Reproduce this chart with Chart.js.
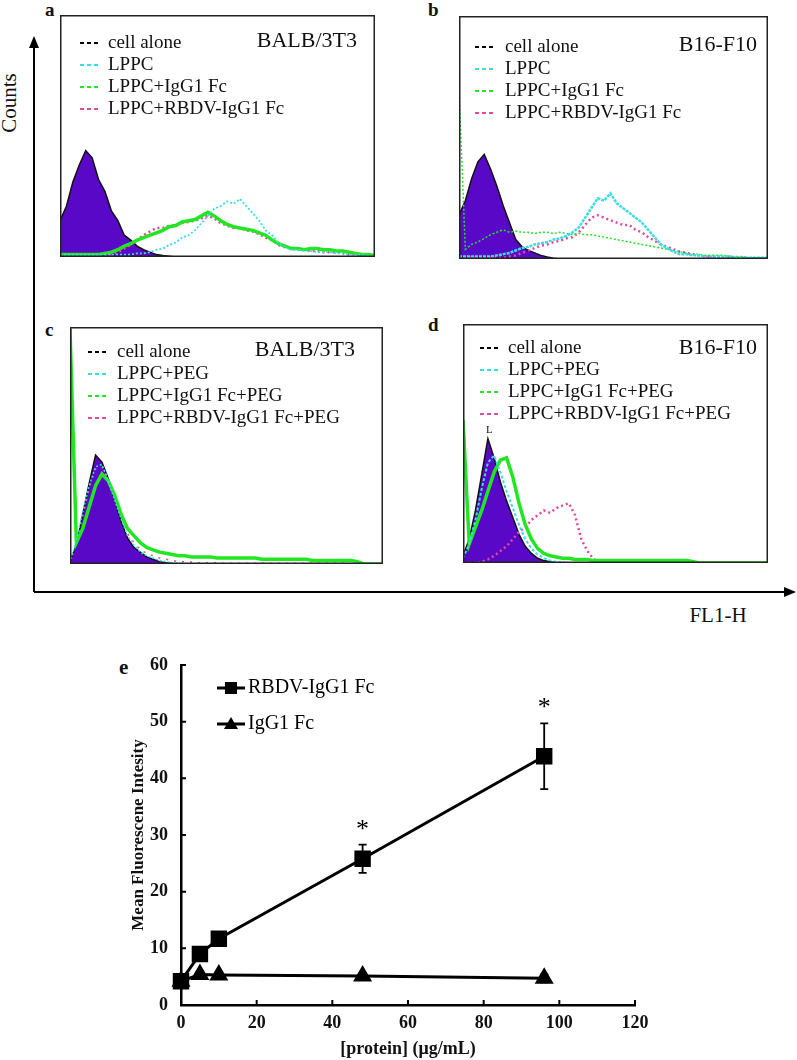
<!DOCTYPE html>
<html>
<head>
<meta charset="utf-8">
<script src="https://cdn.jsdelivr.net/npm/chart.js@4.4.1/dist/chart.umd.min.js"></script>
<style>
  body { margin: 0; width: 797px; height: 1060px; background: #fff; position: relative; overflow: hidden; font-family: "Liberation Serif", serif; color: #111; }
  canvas { position: absolute; }
  svg { position: absolute; left: 0; top: 0; }
  .tag { position: absolute; font-weight: bold; font-size: 19px; line-height: 20px; }
  #counts { position: absolute; left: -22px; top: 92px; width: 62px; height: 22px; line-height: 22px; text-align: center; font-size: 21px; transform: rotate(-90deg); }
  #fl1 { position: absolute; left: 688px; top: 604px; width: 60px; line-height: 22px; text-align: center; font-size: 21px; }
  #gate { position: absolute; left: 486px; top: 423px; font-size: 11px; line-height: 12px; }
</style>
</head>
<body>
<svg width="797" height="1060">
  <line x1="34" y1="46" x2="34" y2="592" stroke="#000" stroke-width="2"/>
  <polygon points="34,36 29,48 39,48" fill="#000"/>
  <line x1="34" y1="592" x2="786" y2="592" stroke="#000" stroke-width="2"/>
  <polygon points="796,592 784,587 784,597" fill="#000"/>
</svg>
<div id="counts">Counts</div>
<div id="fl1">FL1-H</div>
<div class="tag" style="left:45px;top:0px">a</div>
<div class="tag" style="left:428px;top:0px">b</div>
<div class="tag" style="left:45px;top:320px">c</div>
<div class="tag" style="left:428px;top:315px">d</div>
<div class="tag" style="left:119px;top:657px;font-size:21px">e</div>

<canvas id="panelA" width="315" height="242" style="left:60px;top:15px"></canvas>
<canvas id="panelB" width="309" height="243" style="left:459px;top:16px"></canvas>
<canvas id="panelC" width="313" height="237" style="left:70px;top:327px"></canvas>
<canvas id="panelD" width="305" height="239" style="left:463px;top:324px"></canvas>
<div id="gate">L</div>
<canvas id="chartE" width="590" height="420" style="left:90px;top:640px"></canvas>

<script>
// histogram channels (50 bins across FL1-H), counts in % of panel height
const channels = [
  0, 1, 2, 3, 4, 5, 6, 7, 8, 9,
  10, 11, 12, 13, 14, 15, 16, 17, 18, 19,
  20, 21, 22, 23, 24, 25, 26, 27, 28, 29,
  30, 31, 32, 33, 34, 35, 36, 37, 38, 39,
  40, 41, 42, 43, 44, 45, 46, 47, 48, 49
];

// a - BALB/3T3
const cellA = [
  15, 21, 31, 38, 44, 41, 32, 27, 19, 15,
  9, 7, 4.5, 3, 2, 1, 0.6, 0.3, 0, 0,
  0, 0, 0, 0, 0, 0, 0, 0, 0, 0,
  0, 0, 0, 0, 0, 0, 0, 0, 0, 0,
  0, 0, 0, 0, 0, 0, 0, 0, 0, 0
];
const lppcA = [
  1, 1, 1, 1, 1, 1, 1, 1, 1, 1,
  1, 1, 1.5, 1.5, 2, 3, 3.5, 5, 6, 8,
  9, 11, 14, 17, 20, 21, 23, 22, 24, 21,
  18, 15, 11, 9, 6, 4, 3, 3, 2.5, 2.5,
  2, 2, 2, 1.5, 1.5, 1, 1, 1, 0.5, 0.5
];
const igA = [
  1, 1, 1, 1, 1, 1, 1, 1.5, 2, 3,
  4.5, 5.5, 7, 8, 9, 10, 11, 12.5, 13, 14.5,
  15, 15.5, 17, 18.5, 17, 15, 13.5, 12.5, 12, 11.5,
  11, 10, 9, 7, 5.5, 4.5, 3.5, 3.5, 3, 3.5,
  3.5, 3, 3, 2.5, 2.5, 2, 1.5, 1, 1, 0.5
];
const rbdvA = [
  0.5, 0.5, 0.5, 0.5, 0.5, 0.5, 0.5, 0.5, 1, 2,
  3.5, 5, 7, 9, 10.5, 12, 12, 13, 13, 14,
  14.5, 15, 16, 17, 16, 14, 13, 12, 12, 11,
  10.5, 9.5, 8, 7, 5, 4, 3.5, 3, 3, 2.5,
  2.5, 2, 2, 2, 1.5, 1, 1, 0.5, 0.5, 0
];

// b - B16-F10
const cellB = [
  18, 24, 33, 40, 43, 37, 30, 22, 15, 8,
  5, 3.5, 2.5, 1.5, 0.8, 0.3, 0, 0, 0, 0,
  0, 0, 0, 0, 0, 0, 0, 0, 0, 0,
  0, 0, 0, 0, 0, 0, 0, 0, 0, 0,
  0, 0, 0, 0, 0, 0, 0, 0, 0, 0
];
const lppcB = [
  1, 1, 1, 1, 1, 1, 1.5, 2, 2.5, 3.5,
  4.5, 5, 6, 6.5, 7, 8, 8.5, 9.5, 11, 13,
  17, 21, 25, 24, 27, 23, 21, 19, 17, 15,
  12, 9, 6, 4.5, 3, 2, 2, 1.5, 1.5, 1,
  1, 1, 1, 1, 0.5, 0.5, 0.5, 0.5, 0.5, 0.5
];
const igB = [
  70, 4, 6, 7, 8.5, 10, 11, 12, 11, 11.5,
  11, 11, 10.5, 11, 11, 10.5, 11, 10.5, 10, 10.5,
  10, 10, 9.5, 9, 8.5, 8, 7.5, 7, 6.5, 6,
  5.5, 5, 4.5, 4, 3.5, 3, 2.5, 2, 2, 1.5,
  1.5, 1.5, 1.5, 1, 1, 1, 0.5, 0.5, 0.5, 0.5
];
const rbdvB = [
  0.5, 0.5, 0.5, 0.5, 0.5, 0.5, 0.5, 0.5, 1, 1.5,
  2.5, 3.5, 4.5, 5.5, 6, 7, 7.5, 8.5, 9, 11,
  14, 17, 18, 17, 16, 15, 14, 14, 12, 11,
  9, 7.5, 6, 5, 4, 3, 2.5, 2, 1.5, 1,
  1, 1, 0.5, 1, 0.5, 0.5, 0, 0.5, 0, 0
];

// c - BALB/3T3 + PEG
const cellC = [
  1, 8, 21, 34, 46, 43, 36, 27, 18, 11,
  7, 5, 3, 2, 1, 0.5, 0.2, 0, 0, 0,
  0, 0, 0, 0, 0, 0, 0, 0, 0, 0,
  0, 0, 0, 0, 0, 0, 0, 0, 0, 0,
  0, 0, 0, 0, 0, 0, 0, 0, 0, 0
];
const lppcC = [
  0.5, 10, 22, 33, 41, 42, 35, 27, 19, 12,
  8, 5, 3.5, 2.5, 1.5, 1, 0.5, 0.3, 0, 0,
  0, 0, 0, 0, 0, 0, 0, 0, 0, 0,
  0, 0, 0, 0, 0, 0, 0, 0, 0, 0,
  0, 0, 0, 0, 0, 0, 0, 0, 0, 0
];
const igC = [
  99, 9, 15, 24, 33, 38, 35, 29, 21, 15,
  12, 9, 7, 6, 5, 4.5, 4, 3.5, 3.5, 3,
  3, 3, 3, 2.5, 2.5, 2.5, 2.5, 2.5, 2.5, 2.5,
  2, 2, 2, 2, 2, 2, 2, 2, 1.5, 1.5,
  1.5, 1.5, 1.5, 1.5, 1.5, 1, 0, 0, 0, 0
];
const rbdvC = [
  0.5, 9, 20, 32, 40, 41, 36, 28, 20, 13,
  9, 6, 4.5, 3.5, 2.5, 2, 1.5, 1, 1, 0.8,
  0.5, 0.5, 0.5, 0.5, 0.3, 0.3, 0.3, 0.3, 0.3, 0.3,
  0.3, 0.3, 0.3, 0.3, 0.3, 0.3, 0.3, 0.3, 0.3, 0.3,
  0.3, 0.3, 0.3, 0.3, 0, 0, 0, 0, 0, 0
];

// d - B16-F10 + PEG
const cellD = [
  3, 10, 22, 37, 52, 44, 34, 26, 19, 12,
  7, 4, 2, 1, 0.5, 0, 0, 0, 0, 0,
  0, 0, 0, 0, 0, 0, 0, 0, 0, 0,
  0, 0, 0, 0, 0, 0, 0, 0, 0, 0,
  0, 0, 0, 0, 0, 0, 0, 0, 0, 0
];
const lppcD = [
  2, 8, 18, 31, 42, 45, 38, 30, 23, 16,
  10, 6, 3.5, 2, 1, 0.5, 0.3, 0, 0, 0,
  0, 0, 0, 0, 0, 0, 0, 0, 0, 0,
  0, 0, 0, 0, 0, 0, 0, 0, 0, 0,
  0, 0, 0, 0, 0, 0, 0, 0, 0, 0
];
const igD = [
  60, 8, 15, 22, 30, 38, 43, 44, 36, 25,
  16, 10, 6, 4, 3, 2.5, 2, 2, 1.5, 1.5,
  1.5, 1, 1, 1, 1, 1, 1, 1, 1, 1,
  1, 1, 1, 1, 1, 1, 1, 0.5, 0, 0,
  0, 0, 0, 0, 0, 0, 0, 0, 0, 0
];
const rbdvD = [
  0, 0, 0, 0.5, 1.5, 3, 5, 7, 10, 13,
  15, 18, 20, 22, 21, 23, 24, 25, 20, 10,
  5, 1.5, 1, 0.5, 0.5, 0.5, 0.5, 0.5, 0.5, 0.5,
  0.5, 0.3, 0.3, 0.3, 0.3, 0.3, 0.3, 0.3, 0, 0,
  0, 0, 0, 0, 0, 0, 0, 0, 0, 0
];

// e - mean fluorescence vs protein concentration
const protein = [0, 5, 10, 48, 96];
const rbdvMFI = [4.2, 9.0, 11.7, 25.8, 43.9];
const rbdvErr = [0.3, 0.4, 0.4, 2.5, 5.8];
const rbdvSig = ['', '', '', '*', '*'];
const iggMFI = [4.2, 5.4, 5.3, 5.1, 4.7];
const iggErr = [0.2, 0.3, 0.3, 0.4, 0.7];

const PURPLE = '#5a08c8';
const CYAN = '#3ddbe8';
const GREEN = '#22e622';
const PINK = '#e2489c';
const SERIF = '"Liberation Serif", "Times New Roman", serif';

Chart.defaults.font.family = SERIF;

// Legend + cell line name + frame inside each histogram panel
const panelLegend = {
    id: 'panelLegend',
    afterDraw(chart, args, opts) {
        const ctx = chart.ctx;
        const area = chart.chartArea;
        ctx.save();
        ctx.font = '19px ' + SERIF;
        ctx.textBaseline = 'middle';
        chart.data.datasets.forEach((ds, i) => {
            const y = area.top + opts.top + i * 22;
            const x0 = area.left + opts.keyLeft;
            ctx.strokeStyle = ds.keyColor;
            ctx.lineWidth = 2;
            ctx.setLineDash([4, 3]);
            ctx.beginPath();
            ctx.moveTo(x0, y);
            ctx.lineTo(x0 + 18, y);
            ctx.stroke();
            ctx.setLineDash([]);
            ctx.fillStyle = '#111';
            ctx.textAlign = 'left';
            ctx.fillText(ds.label, area.left + opts.textLeft, y);
        });
        ctx.font = '22px ' + SERIF;
        ctx.textAlign = 'right';
        ctx.fillText(opts.cell, area.right - opts.titleRight, area.top + opts.titleTop);
        // panel frame
        ctx.strokeStyle = '#222';
        ctx.lineWidth = 1.5;
        ctx.strokeRect(area.left + 0.75, area.top + 0.75, area.right - area.left - 1.5, area.bottom - area.top - 1.5);
        ctx.restore();
    }
};

function cellSet(values) {
    return { label: 'cell alone', data: values, keyColor: '#000', borderColor: '#111', borderWidth: 1.5,
             backgroundColor: PURPLE, fill: 'origin', order: 10 };
}
function curve(label, values, color, width, dash) {
    return { label: label, data: values, keyColor: color, borderColor: color, borderWidth: width,
             borderDash: dash, fill: false };
}

function drawPanel(id, cellName, pos, sets) {
    new Chart(document.getElementById(id), {
        type: 'line',
        data: { labels: channels, datasets: sets },
        options: {
            responsive: false,
            animation: false,
            events: [],
            layout: { padding: 0 },
            elements: { point: { radius: 0 }, line: { tension: 0 } },
            scales: {
                x: { type: 'linear', display: false, min: 0, max: 49 },
                y: { display: false, min: 0, max: 100 }
            },
            plugins: {
                legend: { display: false },
                tooltip: { enabled: false },
                panelLegend: Object.assign({ cell: cellName }, pos)
            }
        },
        plugins: [panelLegend]
    });
}

drawPanel('panelA', 'BALB/3T3', { keyLeft: 20, textLeft: 48, top: 28, titleRight: 18, titleTop: 26 }, [
    cellSet(cellA),
    curve('LPPC', lppcA, CYAN, 1.8, [2, 2]),
    curve('LPPC+IgG1 Fc', igA, GREEN, 3.5, []),
    curve('LPPC+RBDV-IgG1 Fc', rbdvA, PINK, 2.5, [2, 3])
]);

drawPanel('panelB', 'B16-F10', { keyLeft: 16, textLeft: 46, top: 31, titleRight: 11, titleTop: 29 }, [
    cellSet(cellB),
    curve('LPPC', lppcB, CYAN, 2.5, [3, 1]),
    curve('LPPC+IgG1 Fc', igB, GREEN, 1.5, [2, 2]),
    curve('LPPC+RBDV-IgG1 Fc', rbdvB, PINK, 2.5, [2, 3])
]);

drawPanel('panelC', 'BALB/3T3', { keyLeft: 18, textLeft: 47, top: 25, titleRight: 28, titleTop: 23 }, [
    cellSet(cellC),
    curve('LPPC+PEG', lppcC, CYAN, 1.5, [2, 2]),
    curve('LPPC+IgG1 Fc+PEG', igC, GREEN, 3.5, []),
    curve('LPPC+RBDV-IgG1 Fc+PEG', rbdvC, PINK, 1.5, [2, 6])
]);

drawPanel('panelD', 'B16-F10', { keyLeft: 17, textLeft: 45, top: 24, titleRight: 11, titleTop: 24 }, [
    cellSet(cellD),
    curve('LPPC+PEG', lppcD, CYAN, 2, [3, 2]),
    curve('LPPC+IgG1 Fc+PEG', igD, GREEN, 3.5, []),
    curve('LPPC+RBDV-IgG1 Fc+PEG', rbdvD, PINK, 2.5, [2, 3])
]);

// error bars + significance stars for panel e
const errorBars = {
    id: 'errorBars',
    afterDatasetsDraw(chart) {
        const { ctx, scales: { x, y } } = chart;
        chart.data.datasets.forEach(ds => {
            if (!ds.errors) return;
            ctx.save();
            ctx.strokeStyle = '#000';
            ctx.fillStyle = '#000';
            ctx.lineWidth = 1.8;
            ds.data.forEach((v, j) => {
                const e = ds.errors[j];
                const px = x.getPixelForValue(protein[j]);
                const top = y.getPixelForValue(v + e);
                const bot = y.getPixelForValue(v - e);
                ctx.beginPath();
                ctx.moveTo(px, top); ctx.lineTo(px, bot);
                ctx.moveTo(px - 4, top); ctx.lineTo(px + 4, top);
                ctx.moveTo(px - 4, bot); ctx.lineTo(px + 4, bot);
                ctx.stroke();
                if (ds.marks && ds.marks[j]) {
                    ctx.font = '26px ' + SERIF;
                    ctx.textAlign = 'center';
                    ctx.textBaseline = 'alphabetic';
                    ctx.fillText(ds.marks[j], px, top - 8);
                }
            });
            ctx.restore();
        });
    }
};

// ticks pointing into the plot
const innerTicks = {
    id: 'innerTicks',
    afterDraw(chart) {
        const { ctx, scales: { x, y }, chartArea: a } = chart;
        ctx.save();
        ctx.strokeStyle = '#000';
        ctx.lineWidth = 2;
        ctx.beginPath();
        x.ticks.forEach(t => {
            if (t.value === 0) return;
            const px = x.getPixelForValue(t.value);
            ctx.moveTo(px, a.bottom); ctx.lineTo(px, a.bottom - 5);
        });
        y.ticks.forEach(t => {
            if (t.value === 0) return;
            const py = y.getPixelForValue(t.value);
            ctx.moveTo(a.left, py); ctx.lineTo(a.left + 5, py);
        });
        ctx.stroke();
        ctx.restore();
    }
};

const markerLegend = {
    id: 'markerLegend',
    afterDraw(chart) {
        const ctx = chart.ctx;
        const a = chart.chartArea;
        ctx.save();
        ctx.font = '20px ' + SERIF;
        ctx.textBaseline = 'middle';
        ctx.fillStyle = '#000';
        ctx.strokeStyle = '#000';
        ctx.lineWidth = 3;
        chart.data.datasets.forEach((ds, i) => {
            const y = a.top + 23 + i * 36;
            const x0 = a.left + 36;
            const cx = x0 + 14;
            ctx.beginPath();
            ctx.moveTo(x0, y); ctx.lineTo(x0 + 28, y);
            ctx.stroke();
            if (ds.pointStyle === 'rect') {
                ctx.fillRect(cx - 6, y - 6, 12, 12);
            } else {
                ctx.beginPath();
                ctx.moveTo(cx, y - 7); ctx.lineTo(cx + 7, y + 5); ctx.lineTo(cx - 7, y + 5);
                ctx.closePath();
                ctx.fill();
            }
            ctx.fillText(ds.label, x0 + 31, y);
        });
        ctx.restore();
    }
};

new Chart(document.getElementById('chartE'), {
    type: 'line',
    data: {
        labels: protein,
        datasets: [
            { label: 'RBDV-IgG1 Fc', data: rbdvMFI, errors: rbdvErr, marks: rbdvSig,
              borderColor: '#000', backgroundColor: '#000', borderWidth: 3,
              pointStyle: 'rect', pointRadius: 9.5, clip: false },
            { label: 'IgG1 Fc', data: iggMFI, errors: iggErr,
              borderColor: '#000', backgroundColor: '#000', borderWidth: 3,
              pointStyle: 'triangle', pointRadius: 8, clip: false }
        ]
    },
    options: {
        responsive: false,
        animation: false,
        events: [],
        layout: { padding: { left: 0, right: 45, top: 25, bottom: 0 } },
        elements: { line: { tension: 0 } },
        scales: {
            x: {
                type: 'linear', min: 0, max: 120,
                afterFit: s => { s.height = 55; },
                grid: { display: false, drawTicks: false },
                border: { display: true, color: '#000', width: 2.5 },
                ticks: { stepSize: 20, padding: 8, color: '#111', font: { size: 18, weight: 'bold' } },
                title: { display: true, text: '[protein] (μg/mL)', color: '#111', padding: 0,
                         font: { size: 18, weight: 'bold' } }
            },
            y: {
                min: 0, max: 60,
                afterFit: s => { s.width = 91; },
                grid: { display: false, drawTicks: false },
                border: { display: true, color: '#000', width: 2.5 },
                ticks: { stepSize: 10, padding: 13, color: '#111', font: { size: 18, weight: 'bold' } },
                title: { display: true, text: 'Mean Fluorescene Intesity', color: '#111',
                         padding: { top: 38, bottom: 0 }, font: { size: 17, weight: 'bold' } }
            }
        },
        plugins: { legend: { display: false }, tooltip: { enabled: false } }
    },
    plugins: [errorBars, innerTicks, markerLegend]
});
</script>
</body>
</html>
